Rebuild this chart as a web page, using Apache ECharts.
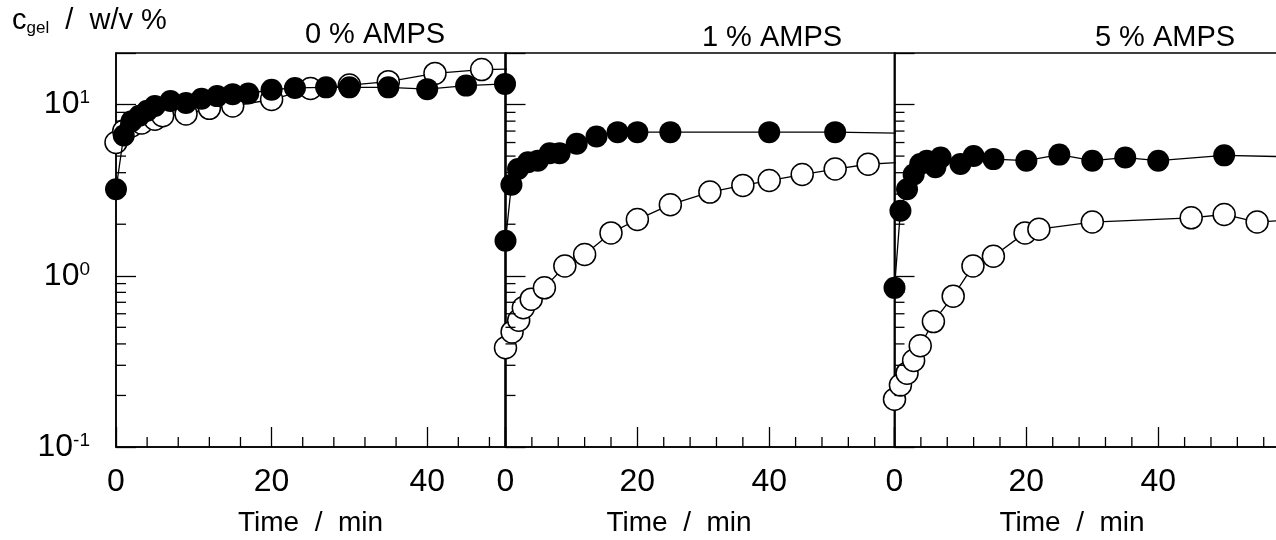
<!DOCTYPE html>
<html>
<head>
<meta charset="utf-8">
<title>Gel concentration vs time</title>
<script src="https://cdn.jsdelivr.net/npm/echarts@6/dist/echarts.min.js"></script>
<style>
  html, body { margin: 0; padding: 0; background: #fff; }
  #chart { width: 1276px; height: 540px; }
</style>
</head>
<body>
<div id="chart"></div>
<script>
// ---------------- data ----------------
const panelTitles = ['0 % AMPS', '1 % AMPS', '5 % AMPS'];
const xAxisMax = [50, 59, 59];

// minor tick values (major ticks come from the axes themselves)
const xMinorTicksShort = [4, 8, 12, 16, 24, 28, 32, 36, 44, 48];
const xMinorTicksLong = [4, 8, 12, 16, 24, 28, 32, 36, 44, 48, 52, 56];
const yMinorTicks = [0.2, 0.3, 0.4, 0.5, 0.6, 0.7, 0.8, 0.9, 2, 3, 4, 5, 6, 7, 8, 9];

// 0 % AMPS
const t0Open   = [0, 1, 2, 3.3, 5, 6, 9, 12, 15, 20, 25, 30, 35, 41, 47, 55];
const c0Open   = [6.0, 7.0, 7.5, 7.8, 8.2, 8.6, 8.8, 9.5, 9.8, 10.7, 12.4, 13.0, 13.6, 15.2, 16.0, 16.3];
const t0Filled = [0, 1, 2, 3, 4, 5, 7, 9, 11, 13, 15, 17, 20, 23, 27, 30, 35, 40, 45, 50];
const c0Filled = [3.2, 6.6, 8.0, 8.6, 9.2, 9.8, 10.5, 10.2, 10.8, 11.2, 11.5, 11.6, 12.2, 12.5, 12.6, 12.6, 12.6, 12.3, 12.9, 13.2];

// 1 % AMPS
const t1Open   = [0, 1, 2, 2.7, 3.9, 5.9, 9, 12, 16, 20, 25, 31, 36, 40, 45, 50, 55, 60];
const c1Open   = [0.38, 0.47, 0.55, 0.65, 0.73, 0.85, 1.14, 1.33, 1.78, 2.13, 2.6, 3.08, 3.37, 3.6, 3.9, 4.2, 4.48, 4.6];
const t1Filled = [0, 0.9, 1.9, 3.4, 4.9, 6.7, 8.2, 10.8, 13.8, 17, 20, 25, 40, 50, 60];
const c1Filled = [1.6, 3.4, 4.2, 4.6, 4.7, 5.2, 5.2, 5.9, 6.5, 6.9, 6.9, 6.9, 6.9, 6.9, 6.8];

// 5 % AMPS
const t5Open   = [0, 0.9, 1.9, 2.9, 3.9, 5.9, 8.9, 11.9, 15, 19.8, 21.9, 30, 45, 50, 55, 60];
const c5Open   = [0.19, 0.23, 0.27, 0.32, 0.39, 0.54, 0.76, 1.14, 1.3, 1.78, 1.87, 2.06, 2.18, 2.28, 2.06, 2.12];
const t5Filled = [0, 0.9, 1.9, 2.9, 3.9, 4.9, 6.2, 7, 10, 12, 15, 20, 25, 30, 35, 40, 50, 60];
const c5Filled = [0.85, 2.4, 3.2, 3.9, 4.5, 4.7, 4.3, 4.9, 4.5, 5.0, 4.8, 4.7, 5.1, 4.7, 4.9, 4.7, 5.05, 4.95];

// ---------------- chart ----------------
const FONT = '"Liberation Sans", Arial, Helvetica, sans-serif';
const zip = (xs, ys) => xs.map((x, i) => [x, ys[i]]);

const openSets   = [zip(t0Open, c0Open), zip(t1Open, c1Open), zip(t5Open, c5Open)];
const filledSets = [zip(t0Filled, c0Filled), zip(t1Filled, c1Filled), zip(t5Filled, c5Filled)];
const xMinorSets = [xMinorTicksShort, xMinorTicksLong, xMinorTicksLong];

const gridLeft = [116, 505.5, 894.5];
const namePad = [[0, 0, 0, 0], [0, 42, 0, 0], [0, 34, 0, 0]];

const grids = [], xAxes = [], yAxes = [], series = [];

for (let i = 0; i < 3; i++) {
  grids.push({
    left: gridLeft[i], top: 53, width: 389, height: 394,
    show: true, borderColor: '#000', borderWidth: 1.5,
    backgroundColor: 'transparent',
    outerBoundsMode: 'none', containLabel: false
  });

  xAxes.push({
    type: 'value', gridIndex: i, min: 0, max: xAxisMax[i], interval: 20,
    position: 'bottom',
    axisLine: { show: true, onZero: false, lineStyle: { color: '#000', width: 1.5 } },
    axisTick: { show: true, inside: true, length: 20, lineStyle: { color: '#000', width: 1.3 } },
    minorTick: { show: false },
    splitLine: { show: false },
    axisLabel: {
      show: true, margin: 19, color: '#000', fontSize: 32, fontFamily: FONT,
      formatter: v => (Math.abs(v % 20) < 1e-9 ? String(v) : '')
    },
    name: 'Time  /  min', nameLocation: 'middle', nameGap: 62,
    nameTextStyle: { color: '#000', fontSize: 28, fontFamily: FONT, padding: namePad[i] }
  });

  yAxes.push({
    type: 'log', logBase: 10, gridIndex: i, min: 0.1, max: 20,
    axisLine: { show: true, onZero: false, lineStyle: { color: '#000', width: 1.5 } },
    axisTick: { show: true, inside: true, length: 20, lineStyle: { color: '#000', width: 1.3 } },
    splitLine: { show: false },
    axisLabel: {
      show: i === 0, margin: 26, color: '#000', fontFamily: FONT,
      formatter: v => {
        const e = Math.log10(v);
        const r = Math.round(e);
        if (Math.abs(e - r) > 1e-6) return '';
        return '{b|10}{s|' + r + '}';
      },
      rich: {
        b: { fontSize: 32, fontFamily: FONT, color: '#000' },
        s: { fontSize: 19, fontFamily: FONT, color: '#000', verticalAlign: 'top' }
      }
    }
  });

  // open circles first, filled circles drawn above them
  series.push({
    type: 'line', xAxisIndex: i, yAxisIndex: i, data: openSets[i],
    symbol: 'circle', symbolSize: 22, showAllSymbol: true, clip: true,
    lineStyle: { color: '#000', width: 1.3 },
    itemStyle: { color: '#fff', borderColor: '#000', borderWidth: 1.5 },
    z: 3, animation: false, silent: true
  });
  series.push({
    type: 'line', xAxisIndex: i, yAxisIndex: i, data: filledSets[i],
    symbol: 'circle', symbolSize: 22, showAllSymbol: true, clip: true,
    lineStyle: { color: '#000', width: 1.3 },
    itemStyle: { color: '#000', borderColor: '#000', borderWidth: 0 },
    z: 4, animation: false, silent: true
  });

  // short minor ticks on the left (log) axis
  series.push({
    type: 'custom', xAxisIndex: i, yAxisIndex: i,
    data: yMinorTicks.map(v => [0, v]),
    renderItem: (params, api) => {
      const p = api.coord([api.value(0), api.value(1)]);
      return { type: 'line', shape: { x1: p[0], y1: p[1], x2: p[0] + 10, y2: p[1] },
               style: { stroke: '#000', lineWidth: 1.3 } };
    },
    z: 5, animation: false, silent: true
  });
  // short minor ticks on the time axis
  series.push({
    type: 'custom', xAxisIndex: i, yAxisIndex: i,
    data: xMinorSets[i].map(t => [t, 0.1]),
    renderItem: (params, api) => {
      const p = api.coord([api.value(0), api.value(1)]);
      return { type: 'line', shape: { x1: p[0], y1: p[1], x2: p[0], y2: p[1] - 10 },
               style: { stroke: '#000', lineWidth: 1.3 } };
    },
    z: 5, animation: false, silent: true
  });
}

const titleCenters = [[375, 35], [772, 38], [1165, 38]];
const graphics = panelTitles.map((t, i) => ({
  type: 'text', x: titleCenters[i][0], y: titleCenters[i][1], silent: true,
  style: { text: t, font: '29px ' + FONT, fill: '#000', align: 'center', verticalAlign: 'middle' }
}));
// axis quantity with subscript, placed by layout box
graphics.push({
  type: 'text', left: 12, top: 6, silent: true,
  style: {
    text: '{m|c}{sub|gel}{m|  /  w/v %}',
    rich: {
      m: { fontSize: 29, fontFamily: FONT, fill: '#000', lineHeight: 32 },
      sub: { fontSize: 17, fontFamily: FONT, fill: '#000', verticalAlign: 'bottom', lineHeight: 20 }
    }
  }
});

const chart = echarts.init(document.getElementById('chart'), null, { renderer: 'canvas' });
chart.setOption({
  backgroundColor: '#fff',
  animation: false,
  textStyle: { fontFamily: FONT },
  grid: grids,
  xAxis: xAxes,
  yAxis: yAxes,
  series: series,
  graphic: graphics
});
</script>
</body>
</html>
